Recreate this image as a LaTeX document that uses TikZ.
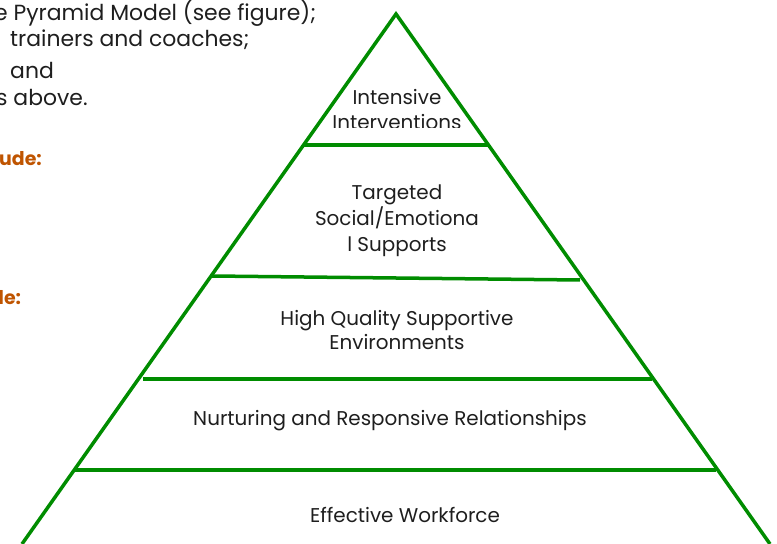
\documentclass[tikz,border=0pt]{standalone}
\usepackage{fontspec}
\setmainfont{Poppins}
\usetikzlibrary{positioning}

\definecolor{pyrgreen}{RGB}{0,140,0}
\definecolor{headorange}{RGB}{191,84,0}
\definecolor{bodygray}{RGB}{30,30,30}

\begin{document}
\begin{tikzpicture}[x=1bp, y=-1bp,
        tierline/.style={draw=pyrgreen, line width=3.5bp},
        tiertext/.style={inner sep=0pt, anchor=base, text=bodygray, font=\fontsize{20}{24}\selectfont},
        bodytext/.style={inner sep=0pt, anchor=base west, text=bodygray, font=\fontsize{22}{26}\selectfont},
        headtext/.style={inner sep=0pt, anchor=base west, text=headorange, font=\fontsize{19}{23}\selectfont\bfseries}]

        \useasboundingbox (0,0) rectangle (777,544);
        \clip (0,0) rectangle (777,544);

        % Left column text (cut off at the edge)
        \node[bodytext] (txtA) at (-6, 21) {e Pyramid Model (see figure);};
        \node[bodytext] (txtB) at (10, 47) {trainers and coaches;};
        \node[bodytext] (txtC) at (10, 79) {and};
        \node[bodytext] (txtD) at (-4, 106) {s above.};
        \node[headtext] (headA) at (-1, 166) {ude:};
        \node[headtext] (headB) at (-9, 305) {de:};

        % Pyramid outline
        \coordinate (apex) at (396, 14);
        \coordinate (baseL) at (22, 544);
        \coordinate (baseR) at (770, 544);
        \draw[tierline, line join=miter] (baseL) -- (apex) -- (baseR);

        % Tier separators
        \coordinate (sepAL) at (303, 145);  \coordinate (sepAR) at (488, 145);
        \coordinate (sepBL) at (212, 276);  \coordinate (sepBR) at (580, 280);
        \coordinate (sepCL) at (143, 379);  \coordinate (sepCR) at (652, 379);
        \coordinate (sepDL) at (75, 470);   \coordinate (sepDR) at (716, 470);
        \draw[tierline] (sepAL) -- (sepAR);
        \draw[tierline] (sepBL) -- (sepBR);
        \draw[tierline] (sepCL) -- (sepCR);
        \draw[tierline] (sepDL) -- (sepDR);

        % Tier labels
        \begin{scope}
            \clip (300, 80) rectangle (500, 128);
            \node[tiertext] (topA) at (397, 105) {Intensive};
            \node[tiertext] (topB) at (397, 130) {Interventions};
        \end{scope}
        \node[tiertext] (tgtA) at (397, 200) {Targeted};
        \node[tiertext] (tgtB) at (397, 226) {Social/Emotiona};
        \node[tiertext] (tgtC) at (397, 252) {l Supports};
        \node[tiertext] (envA) at (397, 325) {High Quality Supportive};
        \node[tiertext] (envB) at (397, 349) {Environments};
        \node[tiertext] (rel) at (390, 425) {Nurturing and Responsive Relationships};
        \node[tiertext] (work) at (405, 522) {Effective Workforce};
\end{tikzpicture}
\end{document}
